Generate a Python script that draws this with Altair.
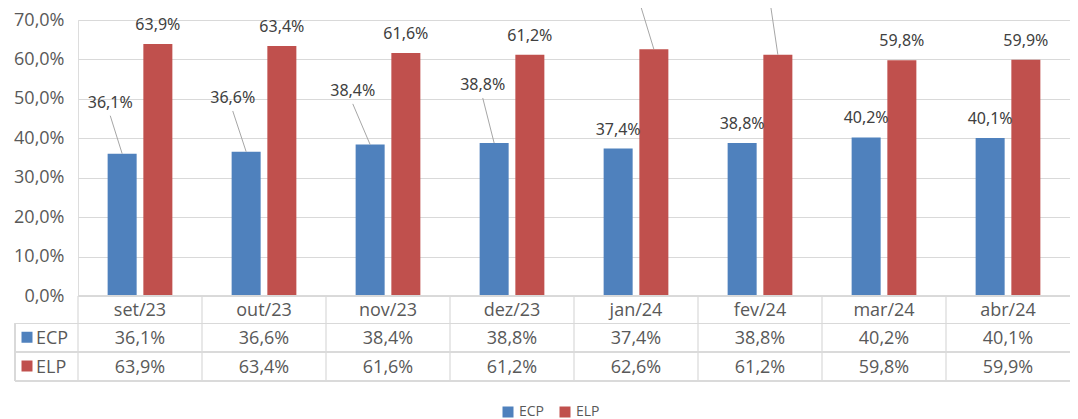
import altair as alt
import pandas as pd

# ---- data ----
categories = ["set/23", "out/23", "nov/23", "dez/23", "jan/24", "fev/24", "mar/24", "abr/24"]
ecp_values = [36.1, 36.6, 38.4, 38.8, 37.4, 38.8, 40.2, 40.1]
elp_values = [63.9, 63.4, 61.6, 61.2, 62.6, 61.2, 59.8, 59.9]
series_names = ["ECP", "ELP"]
y_ticks = [0, 10, 20, 30, 40, 50, 60, 70]

# ---- label placement (style): extra lift in % units and sideways shift in band units ----
ecp_label_lift = [8.1, 8.8, 8.8, 9.9, 0, 0, 0, 0]
ecp_label_shift = [-0.096, -0.108, -0.14, -0.092, 0, 0, 0, 0]
elp_label_lift = [0, 0, 0, 0, 10.95, 12.35, 0, 0]
elp_label_shift = [0, 0, 0, 0, -0.121, -0.065, 0, 0]

BLUE = "#4F81BD"
RED = "#C0504D"
GRID = "#D9D9D9"
TXT = "#595959"
FONT = "Open Sans"
W, H = 992, 276
SERIES_CENTER = {"ECP": 0.356, "ELP": 0.644}
BAR_HALF = 0.117
PX_PER_PCT = H / 70.0


def fmt(v):
    return f"{v:.1f}".replace(".", ",") + "%"


rows = []
for s, vals, lifts, shifts in [("ECP", ecp_values, ecp_label_lift, ecp_label_shift),
                               ("ELP", elp_values, elp_label_lift, elp_label_shift)]:
    for i, (c, v, lf, sh) in enumerate(zip(categories, vals, lifts, shifts)):
        pos = i + SERIES_CENTER[s]
        rows.append(dict(cat=c, idx=i, mid=i + 0.5, series=s, value=v, label=fmt(v),
                         x0=pos - BAR_HALF, x1=pos + BAR_HALF, pos=pos,
                         lx=pos + sh, ly=v + lf,
                         lead_y=v + lf + 6 / PX_PER_PCT, has_lead=lf > 0))
df = pd.DataFrame(rows)
cat_df = pd.DataFrame({"cat": categories, "mid": [i + 0.5 for i in range(len(categories))],
                       "edge": list(range(len(categories)))})

xs = alt.Scale(domain=[0, len(categories)], nice=False, zero=False)
ys = alt.Scale(domain=[0, 70], nice=False, zero=True)
y_axis = alt.Axis(values=y_ticks,
                  labelExpr="replace(format(datum.value, '.1f'), '.', ',') + '%'",
                  grid=True, gridColor=GRID, gridWidth=1.2, domain=False, ticks=False,
                  labelOverlap=False, labelFont=FONT, labelFontSize=18, labelColor=TXT,
                  labelPadding=14, title=None)
color_scale = alt.Scale(domain=series_names, range=[BLUE, RED])

base = alt.Chart(df)

bars = base.mark_bar().encode(
    x=alt.X("x0:Q", scale=xs, axis=None),
    x2="x1:Q",
    y=alt.Y("value:Q", scale=ys, axis=y_axis),
    y2=alt.datum(0),
    color=alt.Color("series:N", scale=color_scale,
                    legend=alt.Legend(orient="none", legendX=423, legendY=385,
                                      direction="horizontal", symbolType="square",
                                      symbolSize=121, symbolStrokeWidth=0,
                                      labelFont=FONT, labelFontSize=14,
                                      labelColor=TXT, labelOffset=4,
                                      columnPadding=13, title=None, padding=0)),
)

leaders = base.transform_filter("datum.has_lead").mark_rule(color="#A6A6A6", strokeWidth=1).encode(
    x=alt.X("lx:Q", scale=xs, axis=None), x2="pos:Q",
    y=alt.Y("lead_y:Q", scale=ys, axis=y_axis), y2="value:Q",
)

labels = base.mark_text(font="Noto Sans", fontSize=16, color="#404040",
                        baseline="middle", align="center", dy=-19).encode(
    x=alt.X("lx:Q", scale=xs, axis=None), y=alt.Y("ly:Q", scale=ys, axis=y_axis), text="label:N",
)

# ---- data table below the plot ----
TOP, R1, R2, R3 = H, H + 27.5, H + 56, H + 85
tbl_lines = []
tbl_lines.append(alt.Chart(cat_df).mark_rule(color=GRID, strokeWidth=1.2).encode(
    x=alt.X("edge:Q", scale=xs, axis=None), y=alt.value(TOP), y2=alt.value(R3)))
tbl_lines.append(alt.Chart(cat_df).mark_rule(color=GRID, strokeWidth=1.2).encode(
    x=alt.value(0), x2=alt.value(W), y=alt.value(TOP)))
for yy in (R1, R2, R3):
    tbl_lines.append(alt.Chart(cat_df).mark_rule(color=GRID, strokeWidth=1.2).encode(
        x=alt.value(-63), x2=alt.value(W), y=alt.value(yy)))
tbl_lines.append(alt.Chart(cat_df).mark_rule(color=GRID, strokeWidth=1.2).encode(
    x=alt.value(-63), y=alt.value(R1), y2=alt.value(R3)))

header = alt.Chart(cat_df).mark_text(font=FONT, fontSize=18, color=TXT, baseline="middle").encode(
    x=alt.X("mid:Q", scale=xs, axis=None), y=alt.value((TOP + R1) / 2 + 1), text="cat:N")

row_layers = []
for s, (ya, yb) in zip(series_names, [(R1, R2), (R2, R3)]):
    yc = (ya + yb) / 2 + 1
    sub = alt.Chart(df).transform_filter(alt.datum.series == s)
    row_layers.append(sub.mark_text(font=FONT, fontSize=18, color=TXT, baseline="middle").encode(
        x=alt.X("mid:Q", scale=xs, axis=None), y=alt.value(yc), text="label:N"))
    row_layers.append(sub.transform_filter("datum.idx == 0").mark_square(size=121, opacity=1).encode(
        x=alt.value(-51), y=alt.value(yc - 1.5),
        color=alt.Color("series:N", scale=color_scale, legend=None)))
    row_layers.append(sub.transform_filter("datum.idx == 0").mark_text(
        font=FONT, fontSize=18, color=TXT, baseline="middle", align="left").encode(
        x=alt.value(-42), y=alt.value(yc), text="series:N"))

chart = alt.layer(bars, leaders, labels, *tbl_lines, header, *row_layers).properties(
    width=W, height=H,
    autosize=alt.AutoSizeParams(type="none"),
    padding={"left": 70, "top": 12, "right": 0, "bottom": 125},
).configure_view(stroke=None).configure(background="white")

chart.save("out.html", embed_options={"renderer": "svg", "actions": False})
